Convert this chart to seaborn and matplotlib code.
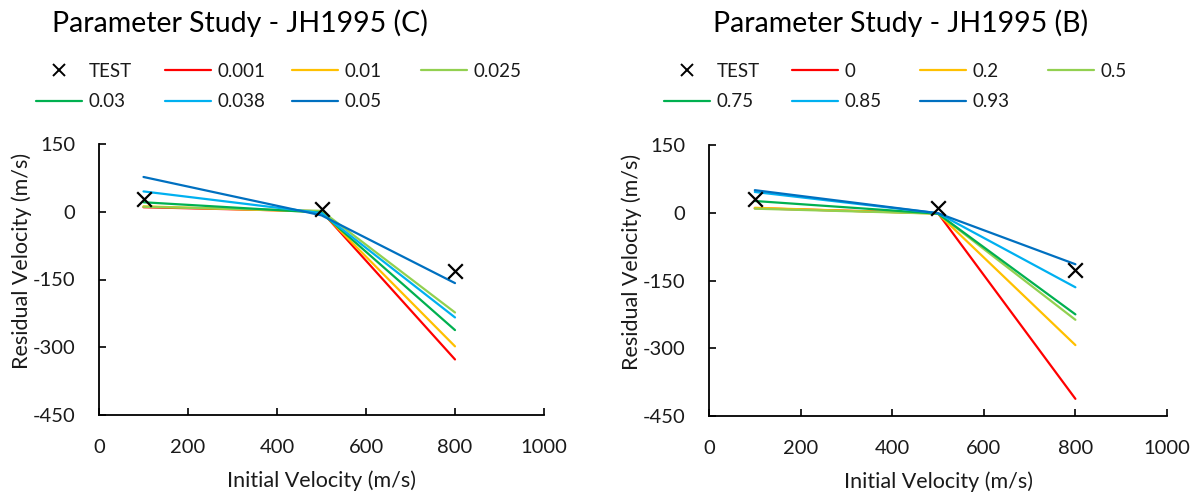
import matplotlib
matplotlib.use("Agg")
import matplotlib.pyplot as plt
from matplotlib.lines import Line2D
import seaborn as sns
import pandas as pd

# Initial velocities (m/s)
init_vel = [100, 500, 800]

# Measured residual velocities
test_left = [28, 7, -131]
test_right = [31, 10, -127]

# JH1995 parameter C sweep: residual velocity at each initial velocity
c_labels = ["0.001", "0.01", "0.025", "0.03", "0.038", "0.05"]
c_0001 = [10, 1, -327]
c_001 = [12, 0, -298]
c_0025 = [11, 2, -223]
c_003 = [21, -2, -262]
c_0038 = [45, -3, -234]
c_005 = [77, -8, -158]

# JH1995 parameter B sweep
b_labels = ["0", "0.2", "0.5", "0.75", "0.85", "0.93"]
b_0 = [10, -1, -412]
b_02 = [11, -2, -293]
b_05 = [9, -2, -237]
b_075 = [26, -2, -225]
b_085 = [46, -1, -165]
b_093 = [50, -1, -114]

series_colors = ["#FF0000", "#FFC000", "#92D050", "#00B050", "#00B0F0", "#0070C0"]

sns.set_theme(style="white")
plt.rcParams["font.family"] = ["Lato", "DejaVu Sans"]
plt.rcParams["axes.unicode_minus"] = False

fig = plt.figure(figsize=(11.99, 4.95), dpi=100)
W, H = 1199, 495
TXT = "#1a1a1a"


def px_axes(x0, y0, x1, y1):
    return fig.add_axes([x0 / W, 1 - y1 / H, (x1 - x0) / W, (y1 - y0) / H])


def long_frame(labels, values):
    rows = []
    for lab, vals in zip(labels, values):
        for x, y in zip(init_vel, vals):
            rows.append({"init": x, "resid": y, "param": lab})
    return pd.DataFrame(rows)


def draw_panel(ax, labels, values, test, title, title_x, col_x, ylab_x):
    df = long_frame(labels, values)
    sns.lineplot(data=df, x="init", y="resid", hue="param", hue_order=labels,
                 palette=series_colors, estimator=None, sort=False,
                 linewidth=1.6, ax=ax, legend=False)
    tdf = pd.DataFrame({"init": init_vel, "resid": test})
    sns.scatterplot(data=tdf, x="init", y="resid", marker="x", color="black",
                    s=110, linewidth=1.6, ax=ax, legend=False, zorder=5)

    ax.set_xlim(0, 1000)
    ax.set_ylim(-450, 150)
    ax.set_xticks(range(0, 1001, 200))
    ax.set_yticks(range(-450, 151, 150))
    for side in ("top", "right"):
        ax.spines[side].set_visible(False)
    for side in ("left", "bottom"):
        ax.spines[side].set_color("black")
        ax.spines[side].set_linewidth(1.3)
    ax.tick_params(axis="both", direction="in", length=5, width=1.2,
                   color="black", labelsize=14.5, labelcolor=TXT)
    ax.tick_params(axis="x", pad=17, bottom=True)
    ax.tick_params(axis="y", pad=17, left=True)
    ax.set_xlabel("Initial Velocity (m/s)", fontsize=15.5, color=TXT, labelpad=10.5)
    ax.set_ylabel("Residual Velocity (m/s)", fontsize=15.5, color=TXT,
                  va="center")
    x0 = ax.get_position().x0 * W
    ax.yaxis.set_label_coords((ylab_x - x0) / (ax.get_position().width * W), 0.568)

    fig.text(title_x / W, 1 - 23 / H, title, ha="center", va="center",
             fontsize=20.5, color="black")

    # legend laid out as a 4-column grid, filled row by row
    test_h = Line2D([], [], linestyle="none", marker="x", color="black",
                    markersize=9, markeredgewidth=1.4)
    line_h = [Line2D([], [], color=c, linewidth=1.6) for c in series_colors]
    handles = [test_h] + line_h
    names = ["TEST"] + labels
    for c in range(4):
        idx = [i for i in (c, c + 4) if i < len(handles)]
        leg = fig.legend([handles[i] for i in idx], [names[i] for i in idx],
                         ncol=1, frameon=False, fontsize=13.5,
                         loc="upper left",
                         bbox_to_anchor=(col_x[c] / W, 1 - 63 / H),
                         borderpad=0, borderaxespad=0,
                         handlelength=2.45, handletextpad=0.35,
                         labelspacing=0.72)
        for t in leg.get_texts():
            t.set_color(TXT)


ax1 = px_axes(99, 144, 544, 415)
draw_panel(ax1, c_labels, [c_0001, c_001, c_0025, c_003, c_0038, c_005],
           test_left, "Parameter Study - JH1995 (C)", 240, [36, 165, 292, 421], 22)

ax2 = px_axes(709, 145, 1167, 416)
draw_panel(ax2, b_labels, [b_0, b_02, b_05, b_075, b_085, b_093],
           test_right, "Parameter Study - JH1995 (B)", 901, [664, 792, 920, 1048], 632)

fig.savefig("out.png", dpi=100, facecolor="white")
